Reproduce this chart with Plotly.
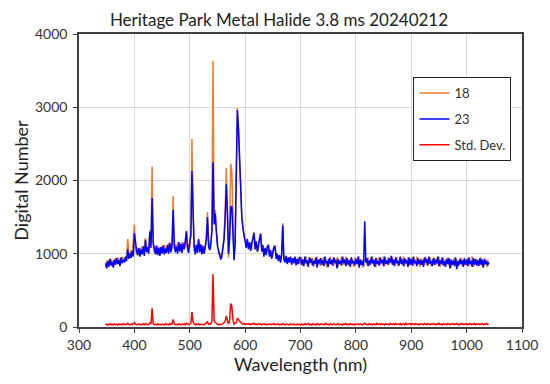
import plotly.graph_objects as go

# Wavelength sampling grid (nm): 2-nm steps from 348 to 1040
wavelength = list(range(348, 1041, 2))

# Series "18" (orange)
s18 = [
    # 348-366
    820, 910, 830, 920, 850, 930, 820, 910, 860, 940,
    870, 950, 860, 940, 880, 960, 890, 950, 900, 980,
    1200, 990, 960, 1050, 980, 1150, 1400, 1080, 990, 1070,
    990, 1080, 1000, 1100, 1010, 1090, 1210, 1080, 1020, 1110,
    1320, 1180, 2190, 1100, 1020, 1100, 1010, 1100, 990, 1090,
    1020, 1110, 1000, 1120, 1020, 1110, 1030, 1150, 1060, 1130,
    1060, 1790, 1060, 1130, 1040, 1140, 1050, 1150, 1040, 1160,
    1070, 1160, 1100, 1300, 1030, 1130, 1080, 1300, 2565, 1500,
    1030, 1120, 1020, 1130, 1180, 1110, 1030, 1120, 1020, 1110,
    1060, 1250, 1570, 1180, 1100, 1060, 1350, 3630, 1450, 1600,
    1350, 1150, 1000, 1010, 960, 940, 1080, 1250, 1600, 2170,
    1600, 950, 1300, 2230, 2120, 1300, 930, 1200, 2250, 2990,
    2720, 2350, 1750, 1520, 1380, 1230, 1200, 1100, 1140, 1130,
    1080, 1130, 1060, 1230, 1260, 1140, 1080, 1120, 1040, 1230,
    1280, 1100, 1040, 1050, 1010, 1060, 1020, 1130, 1010, 990,
    1010, 960, 1110, 1070, 1000, 930, 970, 910, 960, 960,
    1420, 900, 950, 900, 930, 880, 950, 890, 920, 880,
    940, 880, 920, 860, 940, 880,
    # 700-1040
    860, 950, 830, 930, 880, 960, 840, 910, 870, 950,
    850, 940, 820, 930, 880, 960, 850, 900, 830, 940,
    870, 950, 840, 920, 810, 930, 870, 960, 850, 910,
    830, 940, 860, 950, 820, 910, 880, 960, 840, 930,
    850, 960, 870, 920, 830, 940, 860, 910, 820, 950,
    870, 930, 840, 960, 850, 920, 810, 940, 900, 920,
    850, 950, 830, 920, 870, 960, 840, 900, 820, 940,
    860, 950, 840, 920, 880, 960, 830, 910, 870, 950,
    850, 930, 870, 960, 840, 920, 880, 950, 830, 910,
    870, 940, 850, 960, 830, 920, 880, 950, 840, 910,
    860, 950, 830, 920, 870, 960, 850, 900, 820, 940,
    870, 930, 850, 960, 840, 910, 880, 950, 830, 920,
    860, 950, 840, 930, 870, 960, 820, 910, 850, 940,
    830, 920, 860, 950, 840, 930, 810, 900, 870, 940,
    850, 930, 820, 910, 860, 950, 830, 920, 840, 900,
    860, 940, 830, 920, 850, 960, 820, 910, 870, 930,
    840, 920, 860, 950, 830, 910, 850, 930, 820, 920,
    860,
]

# Series "23" (blue)
s23 = [
    # 348-366
    870, 800, 900, 820, 930, 840, 890, 810, 920, 850,
    940, 860, 910, 830, 950, 870, 920, 880, 960, 900,
    1060, 930, 1010, 940, 1040, 960, 1280, 1120, 1050, 980,
    1080, 960, 1060, 990, 1100, 970, 1190, 1020, 1090, 1000,
    1300, 1080, 1760, 1150, 1070, 990, 1110, 980, 1080, 970,
    1090, 1000, 1110, 990, 1070, 1010, 1120, 1000, 1150, 1020,
    1120, 1600, 1130, 1020, 1100, 1000, 1160, 1030, 1130, 1010,
    1140, 1060, 1180, 1310, 1090, 1010, 1160, 1250, 2130, 1400,
    1100, 990, 1120, 1010, 1200, 1020, 1130, 990, 1100, 1000,
    1120, 1200, 1500, 1100, 1050, 1140, 1300, 2250, 1400, 1550,
    1300, 1100, 1050, 960, 920, 980, 1100, 1200, 1500, 1950,
    1550, 1000, 1200, 1640, 1650, 1200, 910, 1150, 2200, 2960,
    2700, 2300, 1700, 1500, 1350, 1250, 1150, 1080, 1200, 1060,
    1160, 1040, 1150, 1200, 1290, 1060, 1170, 1030, 1120, 1200,
    1270, 1030, 1120, 960, 1080, 980, 1100, 1110, 960, 1050,
    930, 1030, 1090, 1100, 930, 1000, 900, 980, 880, 1000,
    1390, 930, 880, 970, 860, 950, 880, 960, 850, 940,
    870, 960, 840, 930, 860, 950,
    # 700-1040
    940, 850, 920, 830, 960, 870, 910, 820, 950, 880,
    930, 840, 900, 860, 950, 810, 920, 870, 940, 850,
    910, 830, 960, 870, 900, 820, 940, 860, 920, 840,
    950, 880, 910, 800, 930, 860, 900, 840, 960, 870,
    920, 830, 940, 850, 910, 820, 950, 870, 900, 840,
    930, 860, 960, 810, 920, 850, 900, 830, 1445, 880,
    940, 830, 910, 850, 960, 870, 920, 820, 940, 860,
    900, 840, 950, 870, 920, 830, 960, 860, 910, 850,
    940, 880, 970, 850, 920, 830, 950, 870, 900, 840,
    960, 860, 920, 830, 940, 870, 910, 820, 950, 850,
    930, 840, 960, 870, 900, 830, 940, 860, 920, 850,
    910, 820, 950, 880, 930, 840, 960, 860, 900, 830,
    940, 850, 920, 870, 960, 830, 910, 860, 950, 840,
    900, 820, 930, 860, 940, 800, 920, 850, 910, 830,
    950, 790, 900, 840, 930, 860, 910, 820, 940, 850,
    920, 830, 950, 860, 900, 820, 940, 850, 930, 840,
    910, 830, 940, 850, 920, 810, 930, 860, 900, 840,
    880,
]

# Series "Std. Dev." (red)
sd = [
    # 348-366
    30, 40, 25, 35, 45, 30, 38, 28, 42, 33,
    36, 27, 44, 31, 39, 29, 46, 34, 30, 41,
    50, 35, 28, 40, 33, 45, 60, 38, 30, 36,
    42, 29, 37, 33, 44, 31, 48, 35, 30, 39,
    55, 40, 255, 45, 32, 38, 29, 43, 34, 37,
    30, 41, 35, 28, 44, 33, 39, 31, 46, 36,
    40, 105, 45, 32, 38, 30, 42, 35, 29, 41,
    34, 44, 30, 50, 36, 31, 40, 55, 205, 70,
    38, 30, 42, 33, 45, 29, 37, 34, 40, 31,
    43, 60, 70, 40, 35, 45, 80, 720, 90, 60,
    45, 38, 30, 40, 33, 36, 45, 60, 80, 150,
    70, 40, 90, 320, 285, 90, 40, 50, 60, 120,
    100, 70, 55, 45, 40, 50, 36, 42, 38, 45,
    33, 40, 35, 48, 52, 34, 40, 31, 44, 38,
    42, 30, 37, 45, 33, 40, 29, 36, 43, 31,
    38, 34, 45, 30, 39, 33, 41, 28, 36, 32,
    45, 35, 30, 40, 33, 37, 29, 42, 34, 31,
    39, 33, 28, 41, 35, 30,
    # 700-1040
    30, 42, 26, 38, 45, 29, 36, 48, 31, 40,
    27, 44, 33, 39, 28, 46, 35, 30, 43, 34,
    41, 29, 37, 50, 32, 38, 27, 45, 36, 31,
    44, 33, 28, 40, 47, 30, 39, 35, 26, 42,
    36, 48, 31, 38, 29, 45, 34, 40, 28, 43,
    33, 39, 47, 30, 41, 36, 28, 44, 52, 35,
    38, 29, 46, 34, 40, 27, 43, 37, 31, 49,
    35, 42, 30, 47, 33, 39, 28, 45, 36, 41,
    29, 48, 37, 32, 44, 30, 50, 35, 41, 33,
    46, 31, 38, 43, 29, 52, 36, 40, 34, 47,
    32, 45, 39, 30, 48, 35, 41, 28, 44, 37,
    40, 33, 49, 36, 31, 46, 38, 29, 43, 35,
    47, 34, 30, 42, 37, 51, 33, 39, 28, 45,
    36, 41, 31, 48, 35, 29, 44, 38, 46, 32,
    39, 50, 34, 30, 43, 37, 48, 33, 41, 36,
    45, 31, 38, 47, 32, 40, 35, 49, 30, 42,
    37, 44, 33, 39, 46, 31, 41, 36, 48, 34,
    38,
]

assert len(s18) == len(wavelength) == len(s23) == len(sd), (len(wavelength), len(s18), len(s23), len(sd))

x_ticks = [300, 400, 500, 600, 700, 800, 900, 1000, 1100]
y_ticks = [0, 1000, 2000, 3000, 4000]

FONT = "Lato, 'Open Sans', sans-serif"
TXT = "#333333"

fig = go.Figure()
fig.add_trace(go.Scatter(x=wavelength, y=s18, mode="lines", name="18",
                         line=dict(color="#ED7D31", width=1.5), legendgroup="a"))
fig.add_trace(go.Scatter(x=wavelength, y=s23, mode="lines", name="23",
                         line=dict(color="#0000FF", width=1.5), legendgroup="b"))
fig.add_trace(go.Scatter(x=wavelength, y=sd, mode="lines", name="Std. Dev.",
                         line=dict(color="#FF0000", width=1.5), legendgroup="c"))

axis_common = dict(showline=True, linecolor="#404040", linewidth=1.5, mirror=True,
                   showgrid=True, gridcolor="#D9D9D9", gridwidth=1,
                   ticks="outside", ticklen=4, tickcolor="#404040", tickwidth=1,
                   zeroline=False, tickfont=dict(family=FONT, size=14, color=TXT))

fig.update_xaxes(range=[300, 1100], tickvals=x_ticks,
                 ticktext=[str(v) for v in x_ticks],
                 title=dict(text="Wavelength (nm)", font=dict(family=FONT, size=18, color="#222"),
                            standoff=6),
                 **axis_common)
fig.update_yaxes(range=[0, 4000], tickvals=y_ticks,
                 ticktext=[str(v) for v in y_ticks],
                 ticklabelstandoff=3,
                 title=dict(text="Digital Number", font=dict(family=FONT, size=18, color="#222"),
                            standoff=2),
                 **axis_common)

# page body has an 8px margin, so the figure is sized/offset to fill the 550x384 window
fig.update_layout(
    width=542, height=376,
    margin=dict(l=62, r=20, t=26, b=57),
    paper_bgcolor="white", plot_bgcolor="white",
    title=dict(text="Heritage Park Metal Halide 3.8 ms 20240212",
               x=0.5, xanchor="center", y=0.968, yanchor="middle",
               font=dict(family=FONT, size=17, color="#222")),
    legend=dict(x=0.755, y=0.853, xanchor="left", yanchor="top",
                bordercolor="#222", borderwidth=1, bgcolor="white",
                font=dict(family=FONT, size=13, color=TXT),
                tracegroupgap=6, itemwidth=30),
    showlegend=True,
)

fig.write_html("out.html")
